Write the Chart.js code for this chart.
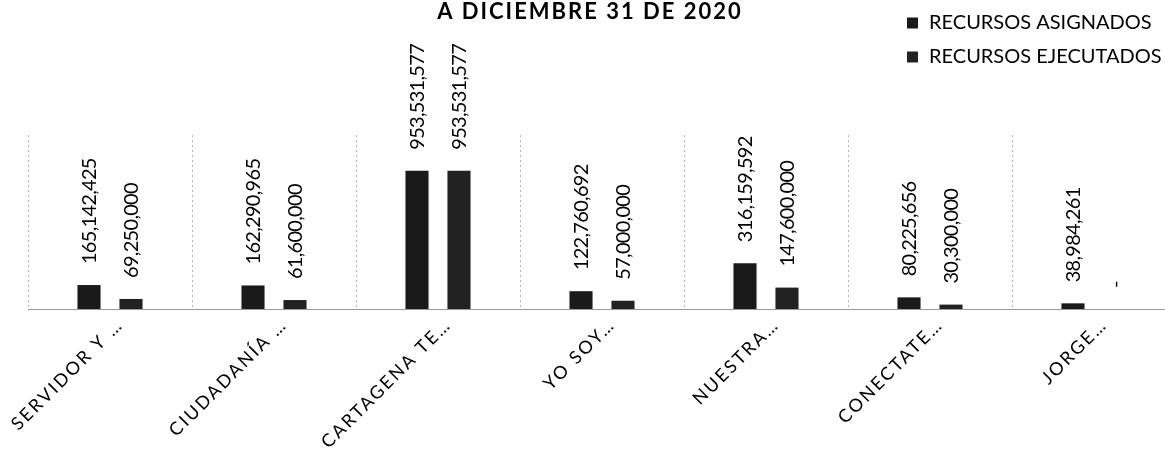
<!DOCTYPE html>
<html><head><meta charset="utf-8">
<script src="https://cdn.jsdelivr.net/npm/chart.js@4.4.0/dist/chart.umd.min.js"></script>
<style>html,body{margin:0;padding:0;overflow:hidden;background:#fff}#wrap{width:1180px;height:455px;position:relative}</style>
</head><body><div id="wrap"><canvas id="c"></canvas></div>
<script>
const categories = ['SERVIDOR Y …', 'CIUDADANÍA …', 'CARTAGENA TE…', 'YO SOY…', 'NUESTRA…', 'CONECTATE…', 'JORGE…'];
const asignados = [165142425, 162290965, 953531577, 122760692, 316159592, 80225656, 38984261];
const ejecutados = [69250000, 61600000, 953531577, 57000000, 147600000, 30300000, 0];
const seriesNames = ['RECURSOS ASIGNADOS', 'RECURSOS EJECUTADOS'];
const chartTitle = 'A DICIEMBRE 31 DE 2020';
const yMax = 1200000000;

function fmt(v){ return v === 0 ? '-' : v.toLocaleString('en-US'); }

const overlay = {
  id: 'overlay',
  beforeDraw(chart){ chart.ctx.letterSpacing = '2.3px'; },
  afterDatasetsDraw(chart){
    const ctx = chart.ctx;
    ctx.save();
    ctx.letterSpacing = '-0.7px';
    ctx.fillStyle = '#000';
    ctx.font = '20px Lato';
    ctx.textAlign = 'left';
    ctx.textBaseline = 'middle';
    chart.data.datasets.forEach((ds, i) => {
      const meta = chart.getDatasetMeta(i);
      meta.data.forEach((bar, j) => {
        ctx.save();
        ctx.translate(bar.x + 1, bar.y - 21);
        ctx.rotate(-Math.PI / 2);
        ctx.fillText(fmt(ds.data[j]), 0, 0);
        ctx.restore();
      });
    });
    // title
    ctx.letterSpacing = '2px';
    ctx.font = 'bold 22px Lato';
    ctx.textAlign = 'center';
    ctx.fillText(chartTitle, 590, 12);
    // legend
    ctx.letterSpacing = '0px';
    ctx.font = '20px Lato';
    ctx.textAlign = 'left';
    chart.data.datasets.forEach((ds, i) => {
      const y = 23 + i * 34;
      ctx.fillStyle = ds.backgroundColor;
      ctx.fillRect(907, y - 5.5, 11, 11);
      ctx.fillStyle = '#000';
      ctx.fillText(ds.label, 929, y);
    });
    ctx.restore();
  }
};

new Chart(document.getElementById('c'), {
  type: 'bar',
  data: {
    labels: categories,
    datasets: [
      { label: seriesNames[0], data: asignados, backgroundColor: '#1a1a1a', categoryPercentage: 0.512, barPercentage: 0.55 },
      { label: seriesNames[1], data: ejecutados, backgroundColor: '#222222', categoryPercentage: 0.512, barPercentage: 0.55 }
    ]
  },
  options: {
    responsive: true,
    maintainAspectRatio: false,
    animation: false,
    layout: { padding: { top: 135, left: 28, right: 4, bottom: 0 } },
    plugins: { legend: { display: false }, title: { display: false }, tooltip: { enabled: false } },
    scales: {
      x: {
        offset: true,
        grid: { display: true, offset: true, color: 'rgba(0,0,0,0.3)', drawTicks: false },
        border: { display: true, color: 'rgba(0,0,0,0.4)', dash: [2, 3] },
        ticks: { color: '#000', font: { family: 'Lato', size: 18 }, minRotation: 45, maxRotation: 45, autoSkip: false, padding: 5, labelOffset: 10 },
        afterFit(scale){ scale.height = 146; }
      },
      y: { display: false, min: 0, max: yMax }
    }
  },
  plugins: [overlay]
});
</script>
</body></html>
